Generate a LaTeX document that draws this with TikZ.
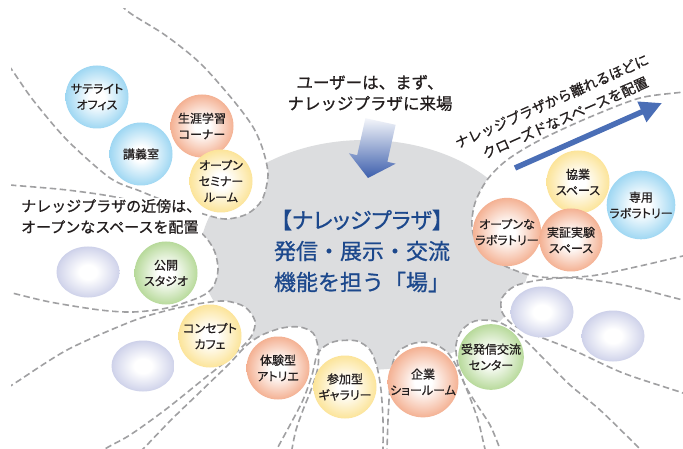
\documentclass[tikz,border=0pt]{standalone}
\usepackage{fontspec}
\setmainfont{Noto Sans CJK JP}[FakeBold=0.8]
\newfontfamily\jpp{Noto Sans CJK JP}[RawFeature=+palt, FakeBold=0.8]
\usetikzlibrary{shapes.geometric,arrows.meta}
\definecolor{txt}{RGB}{35,30,30}
\definecolor{plaza}{RGB}{220,221,223}
\definecolor{dashgray}{RGB}{160,160,162}
\definecolor{plazablue}{RGB}{28,72,140}
\definecolor{arrowblue}{RGB}{60,94,172}
\definecolor{linkblue}{RGB}{74,110,182}
\definecolor{cBlue}{RGB}{108,194,236}
\definecolor{cOrange}{RGB}{238,136,90}
\definecolor{cYellow}{RGB}{250,214,100}
\definecolor{cGreen}{RGB}{146,198,102}
\definecolor{cPurple}{RGB}{170,176,218}
\colorlet{cBlueM}{cBlue!55!white}
\colorlet{cOrangeM}{cOrange!55!white}
\colorlet{cYellowM}{cYellow!55!white}
\colorlet{cGreenM}{cGreen!55!white}
\colorlet{cPurpleM}{cPurple!50!white}
\pgfdeclareradialshading{shBlue}{\pgfpoint{0bp}{0bp}}{color(0bp)=(white); color(6bp)=(white); color(22bp)=(cBlueM); color(35bp)=(cBlue); color(50bp)=(cBlue)}
\pgfdeclareradialshading{shOrange}{\pgfpoint{0bp}{0bp}}{color(0bp)=(white); color(6bp)=(white); color(22bp)=(cOrangeM); color(35bp)=(cOrange); color(50bp)=(cOrange)}
\pgfdeclareradialshading{shYellow}{\pgfpoint{0bp}{0bp}}{color(0bp)=(white); color(6bp)=(white); color(22bp)=(cYellowM); color(35bp)=(cYellow); color(50bp)=(cYellow)}
\pgfdeclareradialshading{shGreen}{\pgfpoint{0bp}{0bp}}{color(0bp)=(white); color(6bp)=(white); color(22bp)=(cGreenM); color(35bp)=(cGreen); color(50bp)=(cGreen)}
\pgfdeclareradialshading{shPurple}{\pgfpoint{0bp}{0bp}}{color(0bp)=(white); color(7bp)=(white); color(23bp)=(cPurpleM); color(35bp)=(cPurple); color(50bp)=(cPurple)}
\newcommand\petalFill[2]{\fill[white] plot[smooth] coordinates {#1} -- #2 -- cycle;}
\newcommand\petalLine[1]{\draw[petal] plot[smooth] coordinates {#1};}
\def\pA{(110,-12) (126,10) (165,35) (200,63) (233,100) (253,127) (263,150) (268,175) (262,200) (247,214) (225,219) (200,213) (170,203) (140,191) (110,178) (67,140) (33,100) (12,70) (-5,48)}
\def\pB{(-10,183) (10,185) (67,190) (120,198) (165,212) (200,232) (214,250) (218,270) (213,287) (200,297) (167,308) (133,312) (100,310) (50,302) (12,293) (-10,288)}
\def\pC{(-10,398) (12,385) (67,350) (130,322) (165,311) (197,304) (225,301) (245,307) (255,321) (252,335) (243,346) (225,362) (200,382) (165,410) (130,435) (105,449) (85,465)}
\def\pD{(125,465) (143,449) (170,421) (200,392) (228,365) (247,345) (262,335) (282,328) (300,327) (313,333) (318,347) (318,367) (311,390) (303,410) (296,430) (292,449) (290,465)}
\def\pE{(270,465) (277,449) (290,425) (303,400) (312,375) (317,355) (325,346) (337,341) (357,341) (370,350) (377,367) (381,390) (383,420) (383,449) (383,465)}
\def\pF{(386,465) (387,449) (388,420) (390,385) (393,362) (400,350) (415,343) (432,343) (447,352) (457,367) (467,390) (478,420) (485,449) (490,465)}
\def\pG{(505,465) (500,449) (490,425) (477,405) (465,385) (458,365) (456,345) (462,330) (475,321) (495,321) (510,328) (525,340) (545,360) (570,385) (600,410) (640,449) (655,465)}
\def\pH{(700,303) (683,300) (623,285) (573,278) (540,280) (515,286) (502,298) (502,312) (512,324) (530,333) (573,350) (623,373) (683,393) (700,400)}
\def\pI{(700,88) (683,92) (640,98) (590,117) (540,140) (507,160) (487,180) (475,203) (472,227) (480,250) (507,267) (540,277) (590,276) (640,266) (683,256) (700,253)}
\tikzset{
  petal/.style={draw=dashgray, line width=1.6pt, dash pattern=on 6.5pt off 3.5pt},
  bubble/.style={circle, minimum size=63pt, inner sep=0pt, align=center, text=txt,
    font=\jpp\fontsize{12}{16}\selectfont, shade},
  bBlue/.style={bubble, shading=shBlue},
  bOrange/.style={bubble, shading=shOrange},
  bYellow/.style={bubble, shading=shYellow},
  bGreen/.style={bubble, shading=shGreen},
  blob/.style={ellipse, minimum width=63pt, minimum height=51pt, inner sep=0pt, shade, shading=shPurple},
  note/.style={text=txt, align=left, inner sep=1pt},
  bluearrow/.style={draw=linkblue, line width=5.5pt, -{Triangle[length=22pt,width=21pt]}}
}
\begin{document}
\begin{tikzpicture}[x=1pt,y=-1pt]
\useasboundingbox (0,0) rectangle (683,449);
\clip (0,0) rectangle (683,449);
\fill[white] (0,0) rectangle (683,449);
% central plaza
\fill[plaza] (365,255) ellipse [x radius=165pt, y radius=115pt];
% petal fills
\expandafter\petalFill\expandafter{\pA}{(-25,-25)}
\expandafter\petalFill\expandafter{\pB}{(-20,235)}
\expandafter\petalFill\expandafter{\pC}{(-20,470)}
\expandafter\petalFill\expandafter{\pD}{(200,480)}
\expandafter\petalFill\expandafter{\pE}{(330,480)}
\expandafter\petalFill\expandafter{\pF}{(440,480)}
\expandafter\petalFill\expandafter{\pG}{(580,480)}
\expandafter\petalFill\expandafter{\pH}{(720,350)}
\expandafter\petalFill\expandafter{\pI}{(720,170)}
% petal outlines (they stop a little inside the left and top edges)
\begin{scope}
\clip (11,9) rectangle (690,460);
\expandafter\petalLine\expandafter{\pA}
\expandafter\petalLine\expandafter{\pB}
\expandafter\petalLine\expandafter{\pC}
\expandafter\petalLine\expandafter{\pD}
\expandafter\petalLine\expandafter{\pE}
\expandafter\petalLine\expandafter{\pF}
\expandafter\petalLine\expandafter{\pG}
\expandafter\petalLine\expandafter{\pH}
\expandafter\petalLine\expandafter{\pI}
\end{scope}
% texts
\node[note, fill=white, anchor=west, font=\fontsize{15}{21}\selectfont] (neartxt) at (20,216.5)
  {ナレッジプラザの近傍は、\\オープンなスペースを配置};
\node[text=txt, align=center, font=\fontsize{16.5}{21}\selectfont] (usertxt) at (370,93)
  {ユーザーは、まず、\\ナレッジプラザに来場};
\node[text=plazablue, align=center, font=\fontsize{22}{31}\selectfont] (plazatxt) at (362,251)
  {【{\jpp ナレッジプラザ}】\\発信・展示・交流\\機能を担う「場」};
\node[text=txt, rotate=24, align=center, inner sep=0pt, font=\fontsize{14}{20.5}\selectfont] (fartxt) at (556,110.5)
  {ナレッジプラザから離れるほどに\\\hspace*{11pt}クローズドなスペースを配置};
% circles
\node[bBlue] (sat) at (97,97) {サテライト\\オフィス};
\node[bBlue] (kogi) at (141,154) {講義室};
\node[bOrange] (shogai) at (202,126) {生涯学習\\コーナー};
\node[bYellow] (seminar) at (221,181) {オープン\\セミナー\\ルーム};
\node[blob] (blobA) at (88,272) {};
\node[bGreen] (studio) at (166,273) {公開\\スタジオ};
\node[blob] (blobB) at (143,366) {};
\node[bYellow] (cafe) at (210,336) {コンセプト\\カフェ};
\node[bOrange] (atelier) at (278,368) {体験型\\アトリエ};
\node[bYellow] (gallery) at (345,387) {参加型\\ギャラリー};
\node[bOrange] (showroom) at (423,382) {企業\\ショールーム};
\node[bGreen] (koryu) at (491,357) {受発信交流\\センター};
\node[blob] (blobC) at (542,312) {};
\node[blob] (blobD) at (613,336) {};
\node[bOrange] (openlab) at (507,232) {オープンな\\ラボラトリー};
\node[bYellow] (kyogyo) at (578,182) {協業\\スペース};
\node[bOrange] (jissho) at (571,240) {実証実験\\スペース};
\node[bBlue] (senyo) at (641,205) {専用\\ラボラトリー};
% arrows
\shade[top color=arrowblue!6!white, bottom color=arrowblue]
  (365.4,118.2) -- (395.6,124.8) -- (387.4,161.8) -- (395.7,163.7) -- (368,178)
  -- (348.9,153.3) -- (357.2,155.2) -- cycle;
\coordinate (arrS) at (515,168);
\coordinate (arrE) at (662,103);
\draw[bluearrow] (arrS) -- (arrE);
\end{tikzpicture}
\end{document}
